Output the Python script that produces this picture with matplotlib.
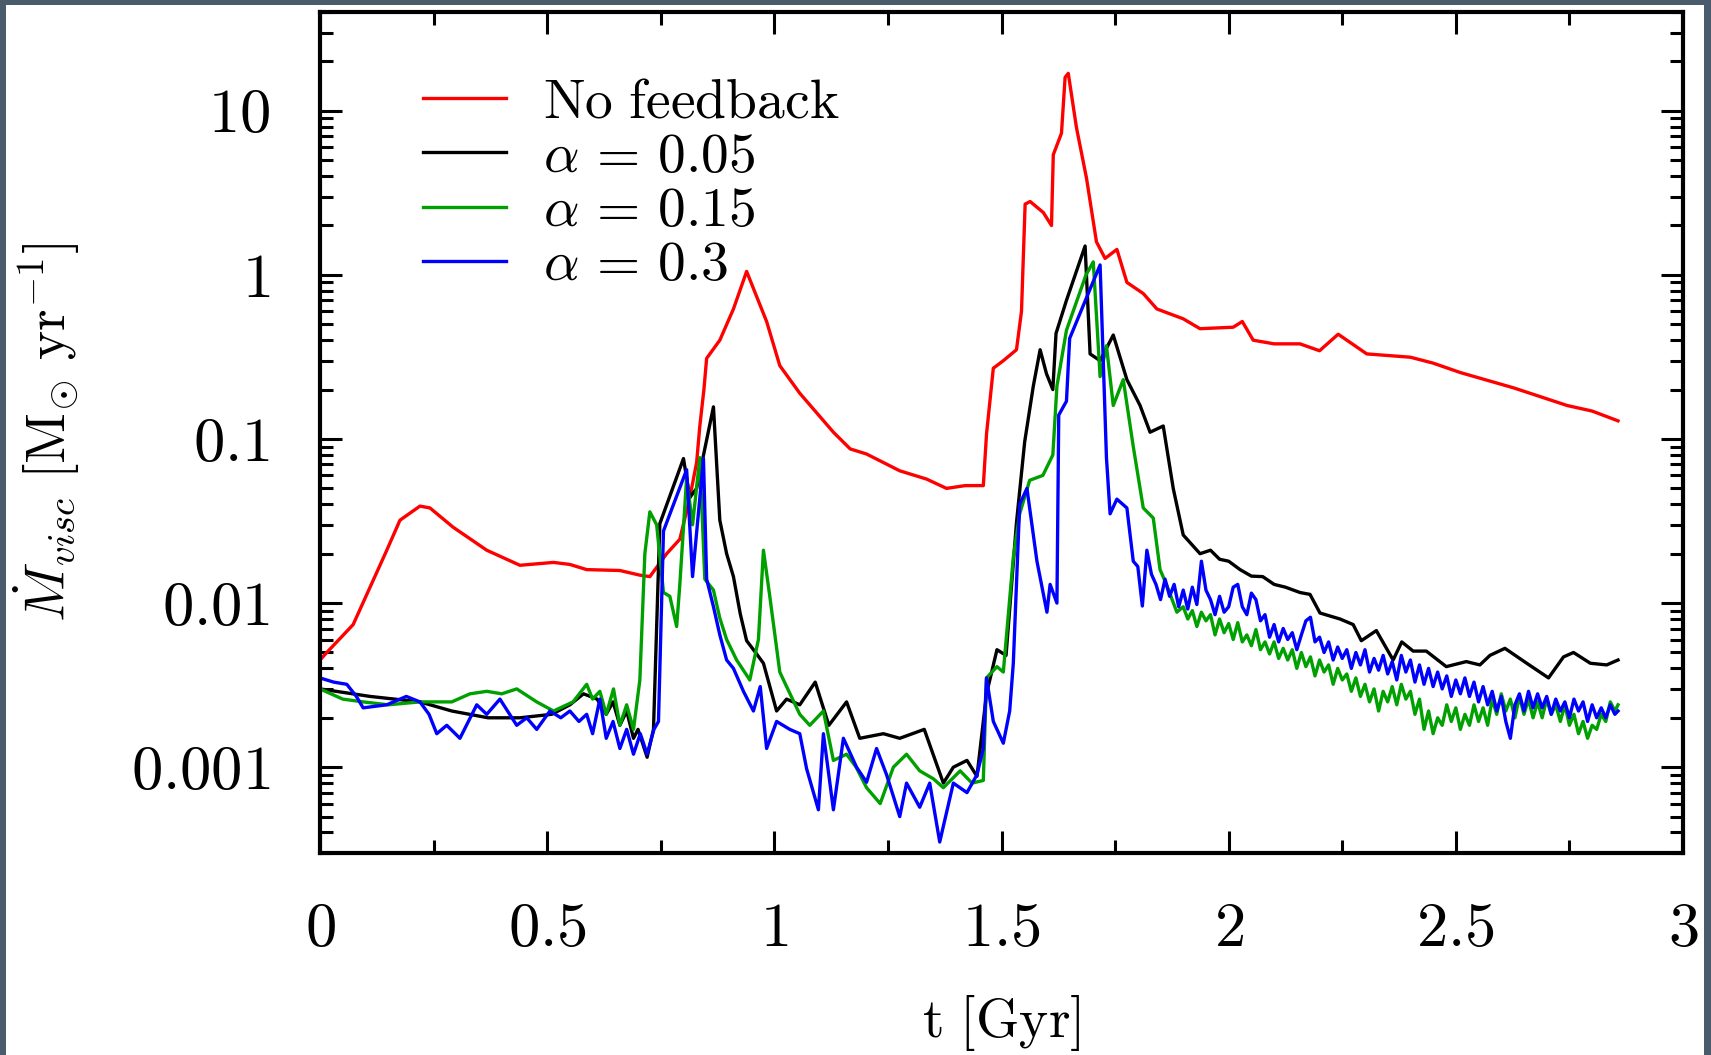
import matplotlib
matplotlib.use('Agg')
import matplotlib.pyplot as plt
import numpy as np
from matplotlib.ticker import MultipleLocator, LogLocator, NullFormatter
from matplotlib.patches import Rectangle

plt.rcParams['mathtext.fontset'] = 'cm'
plt.rcParams['font.family'] = 'serif'
plt.rcParams['font.serif'] = ['cmr10']
plt.rcParams['axes.unicode_minus'] = False

# ---- data (t in Gyr, Mdot in Msun/yr) ----
t_red = [0.000, 0.015, 0.073, 0.147, 0.176, 0.220, 0.242, 0.293, 0.367, 0.440,
         0.514, 0.550, 0.587, 0.660, 0.704, 0.726, 0.763, 0.792, 0.814, 0.829,
         0.836, 0.845, 0.851, 0.880, 0.910, 0.939, 0.983, 1.012, 1.056, 1.130,
         1.167, 1.203, 1.276, 1.335, 1.379, 1.420, 1.460, 1.467, 1.482, 1.504,
         1.533, 1.544, 1.552, 1.563, 1.592, 1.610, 1.614, 1.632, 1.640, 1.647,
         1.665, 1.687, 1.709, 1.728, 1.754, 1.776, 1.812, 1.842, 1.900, 1.937,
         2.010, 2.030, 2.054, 2.100, 2.157, 2.200, 2.241, 2.304, 2.400, 2.450,
         2.510, 2.627, 2.745, 2.800, 2.857]
red = [0.0045, 0.0050, 0.0074, 0.021, 0.032, 0.039, 0.038, 0.029, 0.021, 0.017,
       0.0177, 0.0172, 0.016, 0.0158, 0.0148, 0.0145, 0.020, 0.0245, 0.044, 0.072,
       0.12, 0.20, 0.31, 0.40, 0.62, 1.05, 0.52, 0.28, 0.19, 0.11,
       0.087, 0.081, 0.064, 0.057, 0.050, 0.052, 0.052, 0.107, 0.27, 0.30,
       0.35, 0.60, 2.7, 2.8, 2.4, 2.0, 5.4, 7.3, 16.0, 16.9,
       7.9, 3.9, 1.59, 1.26, 1.43, 0.90, 0.77, 0.62, 0.54, 0.47,
       0.48, 0.52, 0.40, 0.38, 0.38, 0.345, 0.435, 0.33, 0.315, 0.29,
       0.254, 0.205, 0.16, 0.148, 0.129]

t_black = [0.000, 0.110, 0.220, 0.290, 0.370, 0.440, 0.510, 0.550, 0.580, 0.610,
           0.630, 0.645, 0.660, 0.675, 0.690, 0.700, 0.720, 0.734, 0.748, 0.800,
           0.814, 0.829, 0.866, 0.880, 0.895, 0.910, 0.925, 0.939, 0.961, 0.976,
           1.005, 1.027, 1.056, 1.090, 1.120, 1.159, 1.188, 1.240, 1.276, 1.330,
           1.372, 1.394, 1.424, 1.446, 1.467, 1.490, 1.510, 1.533, 1.551, 1.570,
           1.585, 1.599, 1.613, 1.620, 1.643, 1.684, 1.695, 1.717, 1.746, 1.776,
           1.805, 1.827, 1.856, 1.878, 1.900, 1.937, 1.960, 1.980, 2.000, 2.025,
           2.050, 2.075, 2.100, 2.125, 2.157, 2.179, 2.201, 2.245, 2.274, 2.292,
           2.325, 2.362, 2.381, 2.406, 2.435, 2.479, 2.523, 2.553, 2.575, 2.608,
           2.656, 2.704, 2.737, 2.759, 2.796, 2.832, 2.857]
black = [0.0030, 0.0027, 0.0025, 0.0022, 0.0020, 0.0020, 0.0021, 0.0024, 0.0028, 0.0026,
         0.0021, 0.0025, 0.0018, 0.0022, 0.0015, 0.0017, 0.00115, 0.0017, 0.0305, 0.076,
         0.044, 0.050, 0.157, 0.032, 0.020, 0.0145, 0.0086, 0.0059, 0.0049, 0.0043,
         0.0022, 0.0026, 0.0024, 0.0033, 0.0018, 0.0025, 0.0015, 0.0016, 0.0015, 0.0017,
         0.0008, 0.0010, 0.0011, 0.00088, 0.0028, 0.0052, 0.0048, 0.031, 0.096, 0.21,
         0.35, 0.25, 0.20, 0.44, 0.70, 1.50, 0.33, 0.30, 0.43, 0.23,
         0.16, 0.11, 0.12, 0.050, 0.026, 0.020, 0.021, 0.0185, 0.018, 0.016,
         0.0146, 0.0145, 0.013, 0.0125, 0.0116, 0.0113, 0.0087, 0.0080, 0.0074, 0.0059,
         0.0068, 0.0045, 0.0058, 0.0051, 0.0051, 0.0041, 0.0044, 0.0042, 0.0048, 0.0053,
         0.0043, 0.0035, 0.0047, 0.0050, 0.0043, 0.0042, 0.0045]

t_green = [0.000, 0.050, 0.095, 0.150, 0.220, 0.290, 0.330, 0.367, 0.400, 0.433,
           0.477, 0.514, 0.557, 0.587, 0.600, 0.616, 0.630, 0.646, 0.660, 0.675,
           0.690, 0.704, 0.715, 0.726, 0.741, 0.756, 0.770, 0.785, 0.792, 0.807,
           0.820, 0.836, 0.847, 0.866, 0.880, 0.895, 0.917, 0.946, 0.965, 0.976,
           0.990, 1.012, 1.027, 1.056, 1.078, 1.108, 1.130, 1.159, 1.180, 1.203,
           1.233, 1.262, 1.291, 1.320, 1.350, 1.372, 1.409, 1.435, 1.460, 1.467,
           1.490, 1.504, 1.526, 1.540, 1.562, 1.591, 1.613, 1.622, 1.643, 1.686,
           1.702, 1.717, 1.731, 1.746, 1.768, 1.790, 1.812, 1.834, 1.849, 1.863,
           1.886,
           1.90, 1.91, 1.92, 1.93, 1.94, 1.95, 1.96, 1.97, 1.98, 1.99,
           2.00, 2.01, 2.02, 2.03, 2.04, 2.05, 2.06, 2.07, 2.08, 2.09,
           2.10, 2.11, 2.12, 2.13, 2.14, 2.15, 2.16, 2.17, 2.18, 2.19,
           2.20, 2.21, 2.22, 2.23, 2.24, 2.25, 2.26, 2.27, 2.28, 2.29,
           2.30, 2.31, 2.32, 2.33, 2.34, 2.35, 2.36, 2.37, 2.38, 2.39,
           2.40, 2.41, 2.42, 2.43, 2.44, 2.45, 2.46, 2.47, 2.48, 2.49,
           2.50, 2.51, 2.52, 2.53, 2.54, 2.55, 2.56, 2.57, 2.58, 2.59,
           2.60, 2.61, 2.62, 2.63, 2.64, 2.65, 2.66, 2.67, 2.68, 2.69,
           2.70, 2.71, 2.72, 2.73, 2.74, 2.75, 2.76, 2.77, 2.78, 2.79,
           2.80, 2.81, 2.82, 2.83, 2.84, 2.85, 2.857]
green = [0.0030, 0.0026, 0.0025, 0.0024, 0.0025, 0.0025, 0.0028, 0.0029, 0.0028, 0.0030,
         0.0025, 0.0022, 0.0025, 0.0032, 0.0026, 0.0029, 0.0021, 0.0030, 0.0018, 0.0024,
         0.0017, 0.0034, 0.020, 0.036, 0.030, 0.0116, 0.0110, 0.0072, 0.0130, 0.058,
         0.030, 0.077, 0.014, 0.012, 0.0081, 0.0060, 0.0045, 0.0034, 0.0060, 0.021,
         0.011, 0.0038, 0.0031, 0.0021, 0.0018, 0.0022, 0.0011, 0.0012, 0.0010, 0.00075,
         0.00060, 0.0010, 0.0012, 0.00095, 0.00085, 0.00075, 0.00095, 0.00080, 0.00083, 0.0035,
         0.0041, 0.0038, 0.019, 0.035, 0.056, 0.060, 0.080, 0.21, 0.46, 1.0,
         1.2, 0.24, 0.37, 0.16, 0.23, 0.090, 0.038, 0.033, 0.016, 0.013,
         0.0088,
         0.0095, 0.0080, 0.0090, 0.0072, 0.0088, 0.0078, 0.0085, 0.0064, 0.0080, 0.0066,
         0.0075, 0.0060, 0.0076, 0.0058, 0.0064, 0.0055, 0.0069, 0.0052, 0.0058, 0.0049,
         0.0058, 0.0046, 0.0053, 0.0045, 0.0052, 0.0040, 0.0050, 0.0041, 0.0047, 0.0036,
         0.0045, 0.0038, 0.0042, 0.0032, 0.0040, 0.0034, 0.0037, 0.0029, 0.0035, 0.0027,
         0.0032, 0.0025, 0.0030, 0.0022, 0.0029, 0.0025, 0.0031, 0.0024, 0.0032, 0.0026,
         0.0029, 0.0021, 0.0026, 0.0017, 0.0022, 0.0016, 0.0020, 0.0018, 0.0024, 0.0019,
         0.0023, 0.0017, 0.0021, 0.0018, 0.0024, 0.0019, 0.0023, 0.0018, 0.0026, 0.0021,
         0.0028, 0.0022, 0.0026, 0.0020, 0.0027, 0.0021, 0.0026, 0.0020, 0.0025, 0.0020,
         0.0026, 0.0021, 0.0024, 0.0019, 0.0024, 0.0018, 0.0021, 0.0016, 0.0019, 0.0015,
         0.0018, 0.0017, 0.0021, 0.0019, 0.0025, 0.0022, 0.0024]

t_blue = [0.000, 0.030, 0.059, 0.080, 0.095, 0.147, 0.190, 0.220, 0.240, 0.257,
          0.279, 0.308, 0.345, 0.367, 0.396, 0.433, 0.455, 0.477, 0.506, 0.530,
          0.550, 0.570, 0.587, 0.600, 0.616, 0.630, 0.645, 0.660, 0.675, 0.690,
          0.705, 0.720, 0.735, 0.745, 0.756, 0.807, 0.820, 0.844, 0.851, 0.866,
          0.880, 0.895, 0.910, 0.932, 0.954, 0.969, 0.983, 1.005, 1.034, 1.056,
          1.071, 1.097, 1.108, 1.130, 1.152, 1.181, 1.203, 1.225, 1.247, 1.276,
          1.291, 1.320, 1.342, 1.364, 1.394, 1.424, 1.446, 1.460, 1.467, 1.482,
          1.504, 1.518, 1.526, 1.540, 1.556, 1.578, 1.600, 1.607, 1.622, 1.626,
          1.643, 1.650, 1.717, 1.731, 1.739, 1.754, 1.776, 1.790, 1.800,
          1.81, 1.82, 1.83, 1.84, 1.85, 1.86, 1.87, 1.88, 1.89,
          1.90, 1.91, 1.92, 1.93, 1.94, 1.95, 1.96, 1.97, 1.98, 1.99,
          2.00, 2.01, 2.02, 2.03, 2.04, 2.05, 2.06, 2.07, 2.08, 2.09,
          2.10, 2.11, 2.12, 2.13, 2.14, 2.15, 2.16, 2.17, 2.18, 2.19,
          2.20, 2.21, 2.22, 2.23, 2.24, 2.25, 2.26, 2.27, 2.28, 2.29,
          2.30, 2.31, 2.32, 2.33, 2.34, 2.35, 2.36, 2.37, 2.38, 2.39,
          2.40, 2.41, 2.42, 2.43, 2.44, 2.45, 2.46, 2.47, 2.48, 2.49,
          2.50, 2.51, 2.52, 2.53, 2.54, 2.55, 2.56, 2.57, 2.58, 2.59,
          2.60, 2.61, 2.62, 2.63, 2.64, 2.65, 2.66, 2.67, 2.68, 2.69,
          2.70, 2.71, 2.72, 2.73, 2.74, 2.75, 2.76, 2.77, 2.78, 2.79,
          2.80, 2.81, 2.82, 2.83, 2.84, 2.85, 2.857]
blue = [0.0035, 0.0033, 0.0032, 0.0027, 0.0023, 0.0024, 0.0027, 0.0025, 0.0021, 0.0016,
        0.0018, 0.0015, 0.0024, 0.0021, 0.0026, 0.0018, 0.0020, 0.0017, 0.0022, 0.0020,
        0.0022, 0.0019, 0.0021, 0.0016, 0.0026, 0.0015, 0.0019, 0.0013, 0.0017, 0.0012,
        0.0016, 0.0012, 0.0017, 0.0019, 0.0275, 0.065, 0.0145, 0.076, 0.014, 0.0095,
        0.0064, 0.0045, 0.0040, 0.0029, 0.0022, 0.0031, 0.0013, 0.0019, 0.0017, 0.0016,
        0.00098, 0.00055, 0.0016, 0.00055, 0.0015, 0.0010, 0.00081, 0.0013, 0.00090, 0.00050,
        0.00080, 0.00057, 0.00080, 0.00035, 0.00080, 0.00070, 0.00090, 0.0013, 0.0035, 0.0019,
        0.0014, 0.0022, 0.0043, 0.040, 0.050, 0.018, 0.0088, 0.013, 0.010, 0.14,
        0.17, 0.41, 1.15, 0.077, 0.035, 0.043, 0.038, 0.018, 0.0167,
        0.0096, 0.021, 0.015, 0.013, 0.0105, 0.014, 0.011, 0.013, 0.0095,
        0.012, 0.0092, 0.0125, 0.0098, 0.018, 0.012, 0.0105, 0.0085, 0.011, 0.0088,
        0.0095, 0.0125, 0.0130, 0.0095, 0.0085, 0.0115, 0.0105, 0.0078, 0.0085, 0.0062,
        0.0074, 0.0058, 0.0070, 0.0060, 0.0066, 0.0052, 0.0064, 0.0078, 0.0082, 0.0058,
        0.0062, 0.0050, 0.0058, 0.0045, 0.0054, 0.0046, 0.0052, 0.0040, 0.0050, 0.0042,
        0.0052, 0.0038, 0.0046, 0.0039, 0.0048, 0.0037, 0.0044, 0.0034, 0.0048, 0.0038,
        0.0045, 0.0033, 0.0042, 0.0032, 0.0040, 0.0031, 0.0038, 0.0030, 0.0036, 0.0027,
        0.0034, 0.0028, 0.0035, 0.0027, 0.0033, 0.0025, 0.0031, 0.0024, 0.0029, 0.0022,
        0.0027, 0.0019, 0.0015, 0.0024, 0.0028, 0.0022, 0.0029, 0.0023, 0.0028, 0.0023,
        0.0027, 0.0021, 0.0026, 0.0022, 0.0025, 0.0020, 0.0026, 0.0022, 0.0025, 0.0019,
        0.0024, 0.0020, 0.0023, 0.0020, 0.0024, 0.0021, 0.0022]

labels = [r'$\mathrm{No\ feedback}$', r'$\alpha\,=\,0.05$', r'$\alpha\,=\,0.15$', r'$\alpha\,=\,0.3$']
x_ticks = [0, 0.5, 1, 1.5, 2, 2.5, 3]
x_ticklabels = [r'$0$', r'$0.5$', r'$1$', r'$1.5$', r'$2$', r'$2.5$', r'$3$']
y_ticks = [0.001, 0.01, 0.1, 1, 10]
y_ticklabels = [r'$0.001$', r'$0.01$', r'$0.1$', r'$1$', r'$10$']

W, H = 1711, 1055
fig = plt.figure(figsize=(W / 100, H / 100), dpi=100, facecolor='#4a5b6b')
# white page inside the dark frame
fig.add_artist(Rectangle((6 / W, 0), (1704 - 6) / W, (H - 5) / H, transform=fig.transFigure,
                         facecolor='white', edgecolor='none', zorder=0))

ax = fig.add_axes([320 / W, 1 - 853 / H, (1683 - 320) / W, (853 - 12) / H])
ax.set_zorder(1)

lw = 2.4
ax.plot(t_red, red, color='#ff0000', lw=lw, label=labels[0])
ax.plot(t_black, black, color='black', lw=lw, label=labels[1])
ax.plot(t_green, green, color='#00a000', lw=lw, label=labels[2])
ax.plot(t_blue, blue, color='#0000ff', lw=lw, label=labels[3])

ax.set_yscale('log')
ax.set_xlim(0, 3)
ax.set_ylim(3e-4, 40)

ax.set_xticks(x_ticks)
ax.set_xticklabels(x_ticklabels)
ax.set_yticks(y_ticks)
ax.set_yticklabels(y_ticklabels)
ax.xaxis.set_minor_locator(MultipleLocator(0.25))
ax.yaxis.set_minor_locator(LogLocator(base=10, subs=np.arange(2, 10), numticks=20))
ax.yaxis.set_minor_formatter(NullFormatter())

ax.tick_params(which='both', direction='in', top=True, right=True, width=2.2)
ax.tick_params(which='major', length=15.5, labelsize=45, pad=36)
ax.tick_params(which='minor', length=9.5)
for s in ax.spines.values():
    s.set_linewidth(3.0)

ax.set_xlabel(r'$\mathrm{t\ [Gyr]}$', fontsize=40)
ax.set_ylabel(r'$\dot{M}_{visc}\ [\mathrm{M}_{\odot}\ \mathrm{yr}^{-1}]$', fontsize=40)
ax.xaxis.set_label_coords(0.5, -0.1665)
ax.yaxis.set_label_coords(-0.1746, 0.5)

ax.legend(loc='upper left', bbox_to_anchor=(0.0756, 0.921), frameon=False, fontsize=40,
          borderpad=0, borderaxespad=0, handlelength=1.5, handletextpad=0.66,
          labelspacing=0.08)

fig.savefig('out.png', dpi=100, facecolor=fig.get_facecolor())
